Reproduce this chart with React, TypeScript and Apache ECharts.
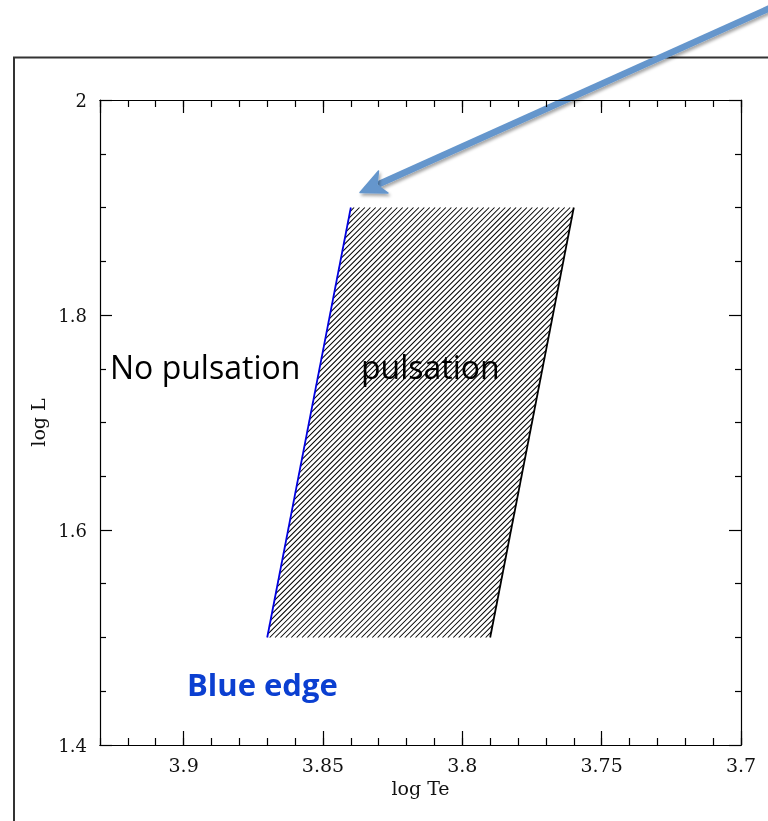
import React, { useEffect, useRef } from 'react';
import * as echarts from 'echarts';

// ---- data ----
const blueEdgeTe = [3.87, 3.84];
const blueEdgeL = [1.5, 1.9];
const redEdgeTe = [3.79, 3.76];
const redEdgeL = [1.5, 1.9];
const xRange = [3.7, 3.93];
const yRange = [1.4, 2.0];
const xMajorStep = 0.05;
const xMinorStep = 0.01;
const yMajorStep = 0.2;
const regionLabels = ['No pulsation', 'pulsation', 'Blue edge'];
const axisNames = ['log Te', 'log L'];

const tickFont = 'DejaVu Serif';

export default function App() {
  const ref = useRef<HTMLDivElement>(null);
  useEffect(() => {
    const chart = echarts.init(ref.current!, null, { renderer: 'svg' });
    const blue = blueEdgeTe.map((t, i) => [t, blueEdgeL[i]]);
    const red = redEdgeTe.map((t, i) => [t, redEdgeL[i]]);
    const strip = [...blue, ...red.slice().reverse()];

    const baseX = {
      type: 'value',
      inverse: true,
      min: xRange[0],
      max: xRange[1],
      splitLine: { show: false },
      axisLine: { show: true, onZero: false, lineStyle: { color: '#000', width: 1.2 } },
    };
    const baseY = {
      type: 'value',
      min: yRange[0],
      max: yRange[1],
      interval: yMajorStep,
      splitLine: { show: false },
      axisLine: { show: true, onZero: false, lineStyle: { color: '#000', width: 1.2 } },
      axisTick: { show: true, inside: true, length: 12, lineStyle: { color: '#000', width: 1.2 } },
      minorTick: { show: true, splitNumber: 4, length: 6, lineStyle: { color: '#000', width: 1.2 } },
    };

    const option: any = {
      animation: false,
      grid: { left: 100, top: 100, right: 27, bottom: 76 },
      xAxis: [
        {
          ...baseX,
          position: 'bottom',
          interval: xMajorStep,
          axisTick: { show: true, inside: true, length: 14, lineStyle: { color: '#000', width: 1.2 } },
          axisLabel: {
            show: true,
            showMaxLabel: false,
            margin: 10,
            fontFamily: tickFont,
            fontSize: 19,
            color: '#111',
          },
          name: axisNames[0],
          nameLocation: 'middle',
          nameGap: 33,
          nameTextStyle: { fontFamily: tickFont, fontSize: 19, color: '#111' },
        },
        {
          ...baseX,
          position: 'bottom',
          interval: xMinorStep,
          axisTick: { show: true, inside: true, length: 7, lineStyle: { color: '#000', width: 1.2 } },
          axisLabel: { show: false },
        },
        {
          ...baseX,
          position: 'top',
          interval: xMajorStep,
          axisTick: { show: true, inside: true, length: 13, lineStyle: { color: '#000', width: 1.2 } },
          axisLabel: { show: false },
        },
        {
          ...baseX,
          position: 'top',
          interval: xMinorStep,
          axisTick: { show: true, inside: true, length: 7, lineStyle: { color: '#000', width: 1.2 } },
          axisLabel: { show: false },
        },
      ],
      yAxis: [
        {
          ...baseY,
          position: 'left',
          axisLabel: { show: true, margin: 13, fontFamily: tickFont, fontSize: 18, color: '#111' },
          name: axisNames[1],
          nameLocation: 'middle',
          nameRotate: 90,
          nameGap: 50,
          nameTextStyle: { fontFamily: tickFont, fontSize: 19, color: '#111' },
        },
        {
          ...baseY,
          position: 'right',
          axisLabel: { show: false },
        },
      ],
      series: [
        {
          type: 'custom',
          xAxisIndex: 0,
          yAxisIndex: 0,
          silent: true,
          data: [[3.8, 1.7]],
          renderItem: (params: any, api: any) => {
            const pts = strip.map((p) => api.coord(p));
            const sums = pts.map((p: number[]) => p[0] + p[1]);
            const minS = Math.min(...sums);
            const maxS = Math.max(...sums);
            const step = 5.4;
            const children: any[] = [];
            for (let c = Math.ceil(minS / step) * step; c <= maxS; c += step) {
              const hits: number[][] = [];
              for (let i = 0; i < pts.length; i++) {
                const a = pts[i];
                const b = pts[(i + 1) % pts.length];
                const sa = a[0] + a[1];
                const sb = b[0] + b[1];
                if (sa === sb) continue;
                const t = (c - sa) / (sb - sa);
                if (t >= 0 && t <= 1) hits.push([a[0] + t * (b[0] - a[0]), a[1] + t * (b[1] - a[1])]);
              }
              if (hits.length >= 2) {
                hits.sort((p, q) => p[0] - q[0]);
                const p1 = hits[0];
                const p2 = hits[hits.length - 1];
                children.push({
                  type: 'line',
                  shape: { x1: p1[0], y1: p1[1], x2: p2[0], y2: p2[1] },
                  style: { stroke: '#000', lineWidth: 1.05 },
                });
              }
            }
            return { type: 'group', children };
          },
        },
        {
          type: 'line',
          data: blue,
          symbol: 'none',
          lineStyle: { color: '#0000e0', width: 1.8 },
        },
        {
          type: 'line',
          data: red,
          symbol: 'none',
          lineStyle: { color: '#000', width: 1.8 },
        },
      ],
      graphic: [
        {
          type: 'polyline',
          shape: { points: [[14, 830], [14, 57.5], [780, 57.5]] },
          style: { stroke: '#333', lineWidth: 2, fill: null },
        },
        {
          type: 'text',
          x: 110,
          y: 366,
          style: {
            text: regionLabels[0],
            font: '32px "Open Sans"',
            fill: '#000',
            verticalAlign: 'middle',
          },
        },
        {
          type: 'text',
          x: 361,
          y: 366,
          style: {
            text: regionLabels[1],
            font: '32px "Open Sans"',
            fill: '#000',
            verticalAlign: 'middle',
          },
        },
        {
          type: 'text',
          x: 187,
          y: 684,
          style: {
            text: regionLabels[2],
            font: 'bold 31px "Open Sans"',
            fill: '#0b3fd1',
            verticalAlign: 'middle',
          },
        },
        {
          type: 'line',
          shape: { x1: 790, y1: -1, x2: 378, y2: 184.5 },
          style: {
            stroke: '#6596cc',
            lineWidth: 6.5,
            shadowColor: 'rgba(0,0,0,0.35)',
            shadowBlur: 3,
            shadowOffsetX: 1.5,
            shadowOffsetY: 2.5,
          },
        },
        {
          type: 'polygon',
          shape: {
            points: [
              [360, 192.5],
              [388, 193],
              [377, 185],
              [378.5, 171],
            ],
          },
          style: {
            fill: '#6596cc',
            stroke: '#6596cc',
            lineWidth: 1.5,
            lineJoin: 'round',
            shadowColor: 'rgba(0,0,0,0.35)',
            shadowBlur: 3,
            shadowOffsetX: 1.5,
            shadowOffsetY: 2.5,
          },
        },
      ],
    };
    chart.setOption(option);
    return () => chart.dispose();
  }, []);
  return <div ref={ref} style={{ position: 'fixed', left: 0, top: 0, width: 768, height: 821 }} />;
}
